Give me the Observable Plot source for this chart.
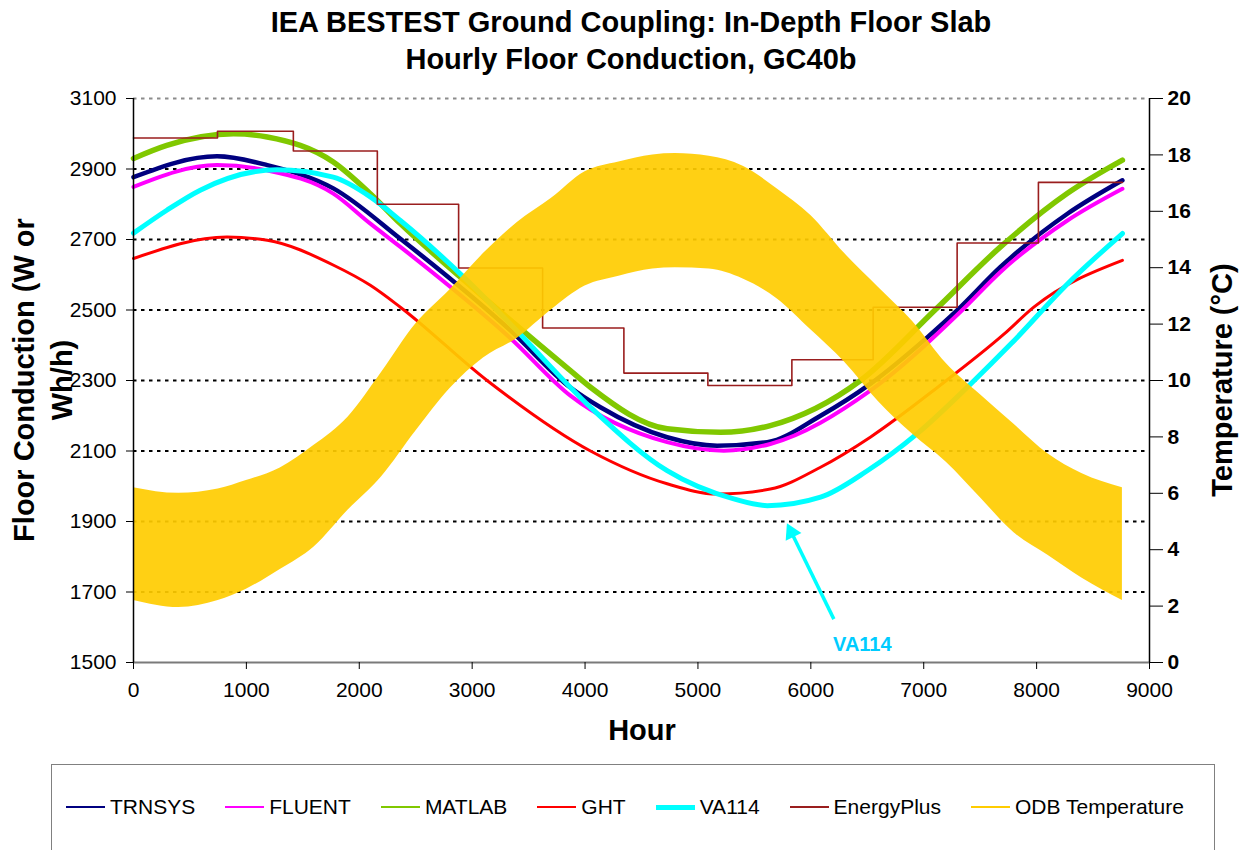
<!DOCTYPE html>
<html>
<head>
<meta charset="utf-8">
<script src="https://cdn.jsdelivr.net/npm/d3@7"></script>
<script src="https://cdn.jsdelivr.net/npm/@observablehq/plot@0.6"></script>
<style>
  body { margin: 0; background: #fff; font-family: "Liberation Sans", Arial, sans-serif; color: #000; }
  #wrap { position: relative; width: 1245px; height: 850px; overflow: hidden; background: #fff; }
  .title { position: absolute; left: 0; width: 1262px; text-align: center; font-weight: bold; font-size: 29px; line-height: 36px; white-space: nowrap; }
  #chart { position: absolute; left: 0; top: 0; }
  .rot { position: absolute; font-weight: bold; font-size: 29px; line-height: 38px; text-align: center; white-space: nowrap; transform: rotate(-90deg); }
  .xlab { position: absolute; font-weight: bold; font-size: 29px; line-height: 36px; width: 200px; text-align: center; }
  #legend { position: absolute; left: 51px; top: 764px; width: 1164px; height: 120px; border: 1px solid #808080; box-sizing: border-box; }
  #legend .items { position: absolute; left: 14px; top: 28px; display: flex; align-items: center; height: 28px; }
  #legend .item { display: flex; align-items: center; margin-right: 30px; font-size: 21px; white-space: nowrap; }
  #legend .sw { width: 39px; margin-right: 5px; }
</style>
</head>
<body>
<div id="wrap">
  <div class="title" style="top:4px">IEA BESTEST Ground Coupling: In-Depth Floor Slab</div>
  <div class="title" style="top:41px">Hourly Floor Conduction, GC40b</div>
  <div id="chart"></div>
  <div class="rot" style="left:-157px; top:342px; width:400px; height:76px;">Floor Conduction (W or<br>Wh/h)</div>
  <div class="rot" style="left:1022px; top:361px; width:400px; height:38px;">Temperature (°C)</div>
  <div class="xlab" style="left:542px; top:712px;">Hour</div>
  <div id="legend"><div class="items" id="legendItems"></div></div>
</div>
<script>
// ---------- data ----------
const xTicks = [0, 1000, 2000, 3000, 4000, 5000, 6000, 7000, 8000, 9000];
const leftTicks = [1500, 1700, 1900, 2100, 2300, 2500, 2700, 2900, 3100];
const gridVals = [1700, 1900, 2100, 2300, 2500, 2700, 2900];
const tempTicks = [0, 2, 4, 6, 8, 10, 12, 14, 16, 18, 20];

const seriesNames = ["TRNSYS", "FLUENT", "MATLAB", "GHT", "VA114", "EnergyPlus", "ODB Temperature"];
const seriesColors = ["#000080", "#FF00FF", "#80C800", "#FF0000", "#00FFFF", "#9A1E1E", "#FFCC00"];

const trnsysHour = [0, 740, 1185, 1770, 2364, 3339, 3870, 4136, 4727, 5170, 5614, 6086, 6530, 7034, 7300, 7680, 8273, 8760];
const trnsysVal  = [2877, 2936, 2911, 2845, 2702, 2442, 2280, 2224, 2139, 2115, 2125, 2200, 2291, 2423, 2500, 2622, 2773, 2868];

const fluentHour = [0, 740, 1185, 1770, 2098, 2364, 3339, 3870, 4727, 5229, 5641, 6530, 7342, 7680, 8273, 8760];
const fluentVal  = [2849, 2911, 2896, 2830, 2745, 2679, 2420, 2257, 2125, 2101, 2120, 2272, 2500, 2608, 2754, 2844];

const matlabHour = [0, 295, 886, 1185, 1770, 2098, 2364, 2897, 3870, 4048, 4727, 5200, 5641, 6440, 7100, 7680, 8273, 8760];
const matlabVal  = [2930, 2967, 3000, 2991, 2920, 2830, 2745, 2593, 2328, 2281, 2163, 2153, 2172, 2300, 2500, 2679, 2831, 2925];

const ghtHour = [0, 828, 1185, 1773, 2098, 2364, 3132, 4048, 4727, 5170, 5641, 6086, 6530, 7124, 7713, 7975, 8760];
const ghtVal  = [2646, 2707, 2698, 2627, 2570, 2508, 2300, 2100, 2007, 1978, 1992, 2054, 2140, 2281, 2432, 2508, 2641];

const va114Hour = [0, 295, 591, 1271, 1770, 2098, 2364, 2955, 3366, 4048, 4727, 5317, 5614, 6086, 6500, 6945, 7418, 7773, 8273, 8760];
const va114Val  = [2718, 2783, 2840, 2898, 2877, 2821, 2754, 2584, 2451, 2224, 2044, 1964, 1945, 1969, 2044, 2150, 2291, 2404, 2574, 2717];

const eplusHour = [0, 744, 1416, 2160, 2880, 3624, 4344, 5088, 5832, 6552, 7296, 8016, 8760];
const eplusVal  = [2988, 3007, 2951, 2800, 2619, 2449, 2321, 2286, 2359, 2508, 2690, 2862, 2862];

// ODB temperature daily envelope (deg C)
const odbHour = [0, 400, 750, 1000, 1300, 1600, 1900, 2200, 2500, 2800, 3100, 3400, 3700, 4000, 4300, 4600, 4800, 5100, 5400, 5700, 6000, 6300, 6600, 6900, 7200, 7500, 7800, 8100, 8400, 8760];
const odbLow  = [2.2, 1.95, 2.2, 2.6, 3.3, 4.1, 5.4, 6.6, 8.2, 9.7, 10.8, 11.5, 12.5, 13.35, 13.7, 13.95, 14.0, 13.95, 13.6, 12.9, 11.8, 10.65, 9.25, 8.1, 7.1, 5.85, 4.6, 3.8, 3.0, 2.2];
const odbHigh = [6.2, 6.0, 6.15, 6.45, 6.9, 7.7, 8.7, 10.3, 12.0, 13.2, 14.5, 15.6, 16.45, 17.4, 17.75, 18.0, 18.05, 17.95, 17.6, 16.8, 15.85, 14.5, 13.3, 12.1, 10.6, 9.5, 8.45, 7.4, 6.7, 6.2];

// VA114 annotation (hour, W)
const annotTip  = [5791, 1893];
const annotTail = [6204, 1623];
const annotText = [6456, 1552, "VA114"];

// ---------- build ----------
const tempBase = 1500, wPerDeg = 80; // right axis: 0..20 C maps onto 1500..3100
const toLeft = t => tempBase + t * wPerDeg;
const tbl = (hs, vs) => hs.map((h, i) => ({h, v: vs[i]}));
const odb = odbHour.map((h, i) => ({h, lo: toLeft(odbLow[i]), hi: toLeft(odbHigh[i])}));

const frac = 0.088;
const headPos = {h: annotTip[0] + frac * (annotTail[0] - annotTip[0]), v: annotTip[1] + frac * (annotTail[1] - annotTip[1])};

const lineOpts = (color, w) => ({x: "h", y: "v", stroke: color, strokeWidth: w, curve: "monotone-x"});

const chart = Plot.plot({
  width: 1245, height: 763,
  marginTop: 98, marginBottom: 101, marginLeft: 133, marginRight: 96,
  x: {domain: [0, 9000]},
  y: {domain: [1500, 3100]},
  style: {fontFamily: "'Liberation Sans', Arial, sans-serif", fontSize: "21px", color: "#000", background: "transparent"},
  marks: [
    Plot.ruleY(gridVals, {stroke: "#000", strokeWidth: 2, strokeDasharray: "3.5,4.5"}),
    Plot.ruleY([3100], {stroke: "#8c8c8c", strokeWidth: 2, strokeDasharray: "3.5,4.5"}),
    Plot.line(tbl(trnsysHour, trnsysVal), lineOpts(seriesColors[0], 4.5)),
    Plot.line(tbl(fluentHour, fluentVal), lineOpts(seriesColors[1], 4)),
    Plot.line(tbl(matlabHour, matlabVal), lineOpts(seriesColors[2], 5.5)),
    Plot.line(tbl(ghtHour, ghtVal), lineOpts(seriesColors[3], 3)),
    Plot.line(tbl(va114Hour, va114Val), lineOpts(seriesColors[4], 5)),
    Plot.line(tbl(eplusHour, eplusVal), {x: "h", y: "v", stroke: seriesColors[5], strokeWidth: 1.6, curve: "step-after"}),
    Plot.areaY(odb, {x: "h", y1: "lo", y2: "hi", fill: seriesColors[6], fillOpacity: 0.92, curve: "monotone-x"}),
    Plot.ruleY([1500], {stroke: "#7a7a7a", strokeWidth: 2}),
    Plot.ruleX([0], {stroke: "#000", strokeWidth: 1.5}),
    Plot.ruleX([9000], {stroke: "#000", strokeWidth: 1.5}),
    Plot.axisY({ticks: leftTicks, tickFormat: d => String(d), tickSize: 7, tickPadding: 10, label: null}),
    Plot.axisY(tempTicks.map(toLeft), {anchor: "right", tickFormat: v => String(Math.round((v - tempBase) / wPerDeg)), tickSize: 13, tickPadding: 5, fontWeight: "bold", label: null}),
    Plot.axisX({ticks: xTicks, tickFormat: d => String(d), tickSize: 7, tickPadding: 13, label: null}),
    Plot.link([{x1: annotTail[0], y1: annotTail[1], x2: headPos.h, y2: headPos.v}], {x1: "x1", y1: "y1", x2: "x2", y2: "y2", stroke: "#00FFFF", strokeWidth: 3.5}),
    Plot.dot([headPos], {x: "h", y: "v", symbol: "triangle", r: 6.5, rotate: -26, fill: "#00FFFF", stroke: "none"}),
    Plot.text([annotText], {x: d => d[0], y: d => d[1], text: d => d[2], fill: "#00CCFF", fontWeight: "bold", fontSize: 20})
  ]
});
document.getElementById("chart").appendChild(chart);

// legend
const legendWidths = [2, 2, 2, 2, 5, 2, 2];
const li = document.getElementById("legendItems");
seriesNames.forEach((name, i) => {
  const item = document.createElement("div");
  item.className = "item";
  const sw = document.createElement("div");
  sw.className = "sw";
  sw.style.height = legendWidths[i] + "px";
  sw.style.background = seriesColors[i];
  const t = document.createElement("span");
  t.textContent = name;
  item.appendChild(sw); item.appendChild(t);
  li.appendChild(item);
});
</script>
</body>
</html>
